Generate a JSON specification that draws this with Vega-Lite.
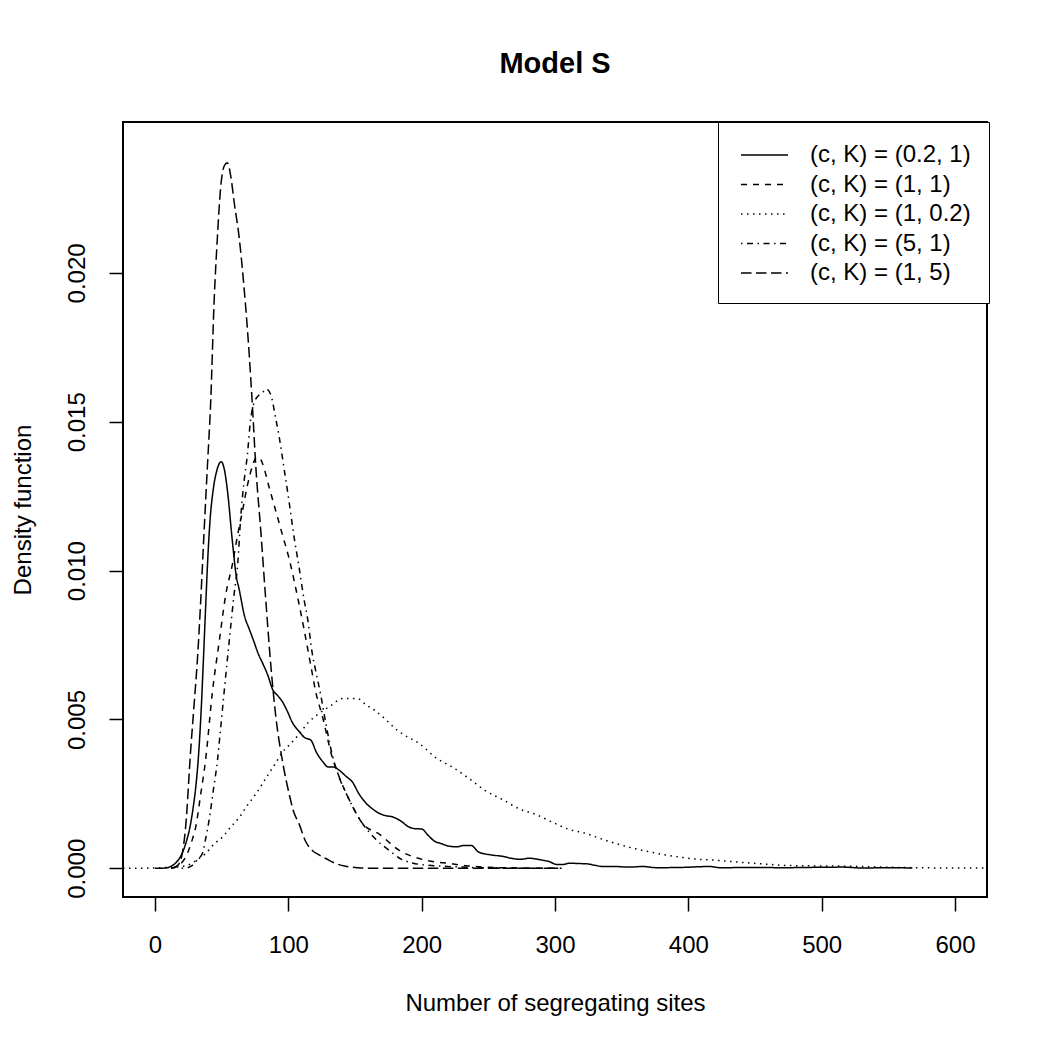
{
  "$schema": "https://vega.github.io/schema/vega-lite/v6.json",
  "autosize": {"type": "none"},
  "padding": {"left": 123, "top": 122, "right": 63, "bottom": 153},
  "width": 864,
  "height": 775,
  "background": "white",
  "title": {
    "text": "Model S",
    "font": "Liberation Sans",
    "fontSize": 29,
    "fontWeight": "bold",
    "color": "black",
    "anchor": "middle",
    "frame": "group",
    "offset": 43
  },
  "config": {
    "view": {"stroke": "black", "strokeWidth": 2},
    "axis": {
      "domain": false,
      "grid": false,
      "ticks": true,
      "tickColor": "black",
      "tickWidth": 1.5,
      "tickSize": 14,
      "labelFont": "Liberation Sans",
      "labelFontSize": 24,
      "labelColor": "black",
      "titleFont": "Liberation Sans",
      "titleFontSize": 24,
      "titleFontWeight": "normal",
      "titleColor": "black"
    }
  },
  "data": {
    "values": [
      {"series": "(c, K) = (0.2, 1)", "x": 0, "y": 0},
      {"series": "(c, K) = (0.2, 1)", "x": 8, "y": 0.00001},
      {"series": "(c, K) = (0.2, 1)", "x": 12, "y": 0.00007},
      {"series": "(c, K) = (0.2, 1)", "x": 16, "y": 0.0002},
      {"series": "(c, K) = (0.2, 1)", "x": 20.3, "y": 0.0005},
      {"series": "(c, K) = (0.2, 1)", "x": 23.5, "y": 0.0009},
      {"series": "(c, K) = (0.2, 1)", "x": 26.3, "y": 0.0014},
      {"series": "(c, K) = (0.2, 1)", "x": 28.5, "y": 0.002},
      {"series": "(c, K) = (0.2, 1)", "x": 30.5, "y": 0.0027},
      {"series": "(c, K) = (0.2, 1)", "x": 32.5, "y": 0.0037},
      {"series": "(c, K) = (0.2, 1)", "x": 34.5, "y": 0.0052},
      {"series": "(c, K) = (0.2, 1)", "x": 36.3, "y": 0.007},
      {"series": "(c, K) = (0.2, 1)", "x": 38, "y": 0.0088},
      {"series": "(c, K) = (0.2, 1)", "x": 39.7, "y": 0.0105},
      {"series": "(c, K) = (0.2, 1)", "x": 41.3, "y": 0.0117},
      {"series": "(c, K) = (0.2, 1)", "x": 43.6, "y": 0.0127},
      {"series": "(c, K) = (0.2, 1)", "x": 46.6, "y": 0.0134},
      {"series": "(c, K) = (0.2, 1)", "x": 49.6, "y": 0.01366},
      {"series": "(c, K) = (0.2, 1)", "x": 52, "y": 0.0134},
      {"series": "(c, K) = (0.2, 1)", "x": 54.3, "y": 0.0127},
      {"series": "(c, K) = (0.2, 1)", "x": 58, "y": 0.011},
      {"series": "(c, K) = (0.2, 1)", "x": 61, "y": 0.0098},
      {"series": "(c, K) = (0.2, 1)", "x": 63, "y": 0.0094},
      {"series": "(c, K) = (0.2, 1)", "x": 67, "y": 0.0085},
      {"series": "(c, K) = (0.2, 1)", "x": 71, "y": 0.008},
      {"series": "(c, K) = (0.2, 1)", "x": 74.3, "y": 0.0076},
      {"series": "(c, K) = (0.2, 1)", "x": 77.5, "y": 0.0072},
      {"series": "(c, K) = (0.2, 1)", "x": 80.6, "y": 0.0069},
      {"series": "(c, K) = (0.2, 1)", "x": 84.5, "y": 0.0065},
      {"series": "(c, K) = (0.2, 1)", "x": 88.3, "y": 0.006},
      {"series": "(c, K) = (0.2, 1)", "x": 92, "y": 0.0058},
      {"series": "(c, K) = (0.2, 1)", "x": 95.5, "y": 0.0056},
      {"series": "(c, K) = (0.2, 1)", "x": 99, "y": 0.0053},
      {"series": "(c, K) = (0.2, 1)", "x": 103, "y": 0.0049},
      {"series": "(c, K) = (0.2, 1)", "x": 108, "y": 0.0046},
      {"series": "(c, K) = (0.2, 1)", "x": 112, "y": 0.0044},
      {"series": "(c, K) = (0.2, 1)", "x": 117, "y": 0.0043},
      {"series": "(c, K) = (0.2, 1)", "x": 121, "y": 0.0039},
      {"series": "(c, K) = (0.2, 1)", "x": 125.5, "y": 0.0036},
      {"series": "(c, K) = (0.2, 1)", "x": 130, "y": 0.0034},
      {"series": "(c, K) = (0.2, 1)", "x": 134, "y": 0.0034},
      {"series": "(c, K) = (0.2, 1)", "x": 138, "y": 0.0033},
      {"series": "(c, K) = (0.2, 1)", "x": 143, "y": 0.0031},
      {"series": "(c, K) = (0.2, 1)", "x": 148, "y": 0.0029},
      {"series": "(c, K) = (0.2, 1)", "x": 153, "y": 0.0025},
      {"series": "(c, K) = (0.2, 1)", "x": 158, "y": 0.0022},
      {"series": "(c, K) = (0.2, 1)", "x": 163, "y": 0.002},
      {"series": "(c, K) = (0.2, 1)", "x": 168, "y": 0.00185},
      {"series": "(c, K) = (0.2, 1)", "x": 173, "y": 0.00177},
      {"series": "(c, K) = (0.2, 1)", "x": 178, "y": 0.00173},
      {"series": "(c, K) = (0.2, 1)", "x": 184, "y": 0.0016},
      {"series": "(c, K) = (0.2, 1)", "x": 190, "y": 0.0014},
      {"series": "(c, K) = (0.2, 1)", "x": 195, "y": 0.00133},
      {"series": "(c, K) = (0.2, 1)", "x": 200, "y": 0.00132},
      {"series": "(c, K) = (0.2, 1)", "x": 205, "y": 0.0011},
      {"series": "(c, K) = (0.2, 1)", "x": 210, "y": 0.0009},
      {"series": "(c, K) = (0.2, 1)", "x": 214, "y": 0.00084},
      {"series": "(c, K) = (0.2, 1)", "x": 220, "y": 0.00075},
      {"series": "(c, K) = (0.2, 1)", "x": 226, "y": 0.00072},
      {"series": "(c, K) = (0.2, 1)", "x": 232, "y": 0.00077},
      {"series": "(c, K) = (0.2, 1)", "x": 237, "y": 0.00077},
      {"series": "(c, K) = (0.2, 1)", "x": 243, "y": 0.00054},
      {"series": "(c, K) = (0.2, 1)", "x": 252, "y": 0.00045},
      {"series": "(c, K) = (0.2, 1)", "x": 261, "y": 0.0004},
      {"series": "(c, K) = (0.2, 1)", "x": 268, "y": 0.00033},
      {"series": "(c, K) = (0.2, 1)", "x": 274, "y": 0.0003},
      {"series": "(c, K) = (0.2, 1)", "x": 281, "y": 0.00034},
      {"series": "(c, K) = (0.2, 1)", "x": 286, "y": 0.00031},
      {"series": "(c, K) = (0.2, 1)", "x": 291, "y": 0.00027},
      {"series": "(c, K) = (0.2, 1)", "x": 296, "y": 0.00022},
      {"series": "(c, K) = (0.2, 1)", "x": 301, "y": 0.00013},
      {"series": "(c, K) = (0.2, 1)", "x": 306, "y": 0.00013},
      {"series": "(c, K) = (0.2, 1)", "x": 311, "y": 0.00017},
      {"series": "(c, K) = (0.2, 1)", "x": 318, "y": 0.00016},
      {"series": "(c, K) = (0.2, 1)", "x": 324, "y": 0.00015},
      {"series": "(c, K) = (0.2, 1)", "x": 330, "y": 0.0001},
      {"series": "(c, K) = (0.2, 1)", "x": 336, "y": 0.00006},
      {"series": "(c, K) = (0.2, 1)", "x": 345, "y": 0.00006},
      {"series": "(c, K) = (0.2, 1)", "x": 355, "y": 0.00004},
      {"series": "(c, K) = (0.2, 1)", "x": 366, "y": 0.00006},
      {"series": "(c, K) = (0.2, 1)", "x": 376, "y": 0.00002},
      {"series": "(c, K) = (0.2, 1)", "x": 395, "y": 0.00003},
      {"series": "(c, K) = (0.2, 1)", "x": 416, "y": 0.00006},
      {"series": "(c, K) = (0.2, 1)", "x": 424, "y": 0.00002},
      {"series": "(c, K) = (0.2, 1)", "x": 450, "y": 0.00003},
      {"series": "(c, K) = (0.2, 1)", "x": 471, "y": 0.00002},
      {"series": "(c, K) = (0.2, 1)", "x": 490, "y": 0.00003},
      {"series": "(c, K) = (0.2, 1)", "x": 516, "y": 0.00004},
      {"series": "(c, K) = (0.2, 1)", "x": 530, "y": 0.00001},
      {"series": "(c, K) = (0.2, 1)", "x": 550, "y": 0.00002},
      {"series": "(c, K) = (0.2, 1)", "x": 568, "y": 0.00001},

      {"series": "(c, K) = (1, 1)", "x": 12, "y": 0},
      {"series": "(c, K) = (1, 1)", "x": 18, "y": 0.0001},
      {"series": "(c, K) = (1, 1)", "x": 24.3, "y": 0.0005},
      {"series": "(c, K) = (1, 1)", "x": 27.5, "y": 0.0009},
      {"series": "(c, K) = (1, 1)", "x": 30.6, "y": 0.0014},
      {"series": "(c, K) = (1, 1)", "x": 34, "y": 0.0024},
      {"series": "(c, K) = (1, 1)", "x": 38.1, "y": 0.0037},
      {"series": "(c, K) = (1, 1)", "x": 43, "y": 0.0059},
      {"series": "(c, K) = (1, 1)", "x": 48.1, "y": 0.0076},
      {"series": "(c, K) = (1, 1)", "x": 53.1, "y": 0.0092},
      {"series": "(c, K) = (1, 1)", "x": 58, "y": 0.0102},
      {"series": "(c, K) = (1, 1)", "x": 62, "y": 0.0112},
      {"series": "(c, K) = (1, 1)", "x": 65.6, "y": 0.012},
      {"series": "(c, K) = (1, 1)", "x": 69, "y": 0.0128},
      {"series": "(c, K) = (1, 1)", "x": 73, "y": 0.0135},
      {"series": "(c, K) = (1, 1)", "x": 76, "y": 0.0138},
      {"series": "(c, K) = (1, 1)", "x": 78.1, "y": 0.0138},
      {"series": "(c, K) = (1, 1)", "x": 80.6, "y": 0.0136},
      {"series": "(c, K) = (1, 1)", "x": 85.6, "y": 0.0128},
      {"series": "(c, K) = (1, 1)", "x": 90.6, "y": 0.012},
      {"series": "(c, K) = (1, 1)", "x": 95.6, "y": 0.0112},
      {"series": "(c, K) = (1, 1)", "x": 100.6, "y": 0.0104},
      {"series": "(c, K) = (1, 1)", "x": 105.6, "y": 0.0094},
      {"series": "(c, K) = (1, 1)", "x": 111.9, "y": 0.008},
      {"series": "(c, K) = (1, 1)", "x": 116.9, "y": 0.0068},
      {"series": "(c, K) = (1, 1)", "x": 120.7, "y": 0.0059},
      {"series": "(c, K) = (1, 1)", "x": 125.6, "y": 0.0051},
      {"series": "(c, K) = (1, 1)", "x": 133.1, "y": 0.0037},
      {"series": "(c, K) = (1, 1)", "x": 137, "y": 0.0032},
      {"series": "(c, K) = (1, 1)", "x": 145.7, "y": 0.0023},
      {"series": "(c, K) = (1, 1)", "x": 155.7, "y": 0.0015},
      {"series": "(c, K) = (1, 1)", "x": 168.2, "y": 0.00115},
      {"series": "(c, K) = (1, 1)", "x": 183.2, "y": 0.0006},
      {"series": "(c, K) = (1, 1)", "x": 193, "y": 0.0004},
      {"series": "(c, K) = (1, 1)", "x": 203.3, "y": 0.00027},
      {"series": "(c, K) = (1, 1)", "x": 220.8, "y": 0.00016},
      {"series": "(c, K) = (1, 1)", "x": 235, "y": 0.00008},
      {"series": "(c, K) = (1, 1)", "x": 245.8, "y": 0.00004},
      {"series": "(c, K) = (1, 1)", "x": 270, "y": 0.00001},
      {"series": "(c, K) = (1, 1)", "x": 305, "y": 0},

      {"series": "(c, K) = (1, 0.2)", "x": -24, "y": 0},
      {"series": "(c, K) = (1, 0.2)", "x": 0, "y": 0.00001},
      {"series": "(c, K) = (1, 0.2)", "x": 10, "y": 0.00003},
      {"series": "(c, K) = (1, 0.2)", "x": 20, "y": 0.00006},
      {"series": "(c, K) = (1, 0.2)", "x": 25.5, "y": 0.00012},
      {"series": "(c, K) = (1, 0.2)", "x": 32, "y": 0.0003},
      {"series": "(c, K) = (1, 0.2)", "x": 38, "y": 0.0005},
      {"series": "(c, K) = (1, 0.2)", "x": 44, "y": 0.0008},
      {"series": "(c, K) = (1, 0.2)", "x": 50.6, "y": 0.00105},
      {"series": "(c, K) = (1, 0.2)", "x": 57, "y": 0.0014},
      {"series": "(c, K) = (1, 0.2)", "x": 63, "y": 0.0017},
      {"series": "(c, K) = (1, 0.2)", "x": 69, "y": 0.0021},
      {"series": "(c, K) = (1, 0.2)", "x": 75.6, "y": 0.0025},
      {"series": "(c, K) = (1, 0.2)", "x": 80, "y": 0.0028},
      {"series": "(c, K) = (1, 0.2)", "x": 85.6, "y": 0.0032},
      {"series": "(c, K) = (1, 0.2)", "x": 90, "y": 0.0035},
      {"series": "(c, K) = (1, 0.2)", "x": 95.6, "y": 0.0039},
      {"series": "(c, K) = (1, 0.2)", "x": 102, "y": 0.0042},
      {"series": "(c, K) = (1, 0.2)", "x": 108, "y": 0.0045},
      {"series": "(c, K) = (1, 0.2)", "x": 115, "y": 0.0049},
      {"series": "(c, K) = (1, 0.2)", "x": 123, "y": 0.0052},
      {"series": "(c, K) = (1, 0.2)", "x": 133, "y": 0.0055},
      {"series": "(c, K) = (1, 0.2)", "x": 140, "y": 0.0057},
      {"series": "(c, K) = (1, 0.2)", "x": 146, "y": 0.0057},
      {"series": "(c, K) = (1, 0.2)", "x": 152, "y": 0.0057},
      {"series": "(c, K) = (1, 0.2)", "x": 158, "y": 0.0055},
      {"series": "(c, K) = (1, 0.2)", "x": 165, "y": 0.0053},
      {"series": "(c, K) = (1, 0.2)", "x": 173, "y": 0.005},
      {"series": "(c, K) = (1, 0.2)", "x": 180, "y": 0.0047},
      {"series": "(c, K) = (1, 0.2)", "x": 186, "y": 0.0045},
      {"series": "(c, K) = (1, 0.2)", "x": 198, "y": 0.0042},
      {"series": "(c, K) = (1, 0.2)", "x": 211, "y": 0.0037},
      {"series": "(c, K) = (1, 0.2)", "x": 223, "y": 0.0034},
      {"series": "(c, K) = (1, 0.2)", "x": 236, "y": 0.003},
      {"series": "(c, K) = (1, 0.2)", "x": 248, "y": 0.0026},
      {"series": "(c, K) = (1, 0.2)", "x": 261, "y": 0.0023},
      {"series": "(c, K) = (1, 0.2)", "x": 273, "y": 0.002},
      {"series": "(c, K) = (1, 0.2)", "x": 286, "y": 0.0018},
      {"series": "(c, K) = (1, 0.2)", "x": 298, "y": 0.00155},
      {"series": "(c, K) = (1, 0.2)", "x": 311, "y": 0.0013},
      {"series": "(c, K) = (1, 0.2)", "x": 321, "y": 0.0012},
      {"series": "(c, K) = (1, 0.2)", "x": 334, "y": 0.001},
      {"series": "(c, K) = (1, 0.2)", "x": 346, "y": 0.00083},
      {"series": "(c, K) = (1, 0.2)", "x": 358, "y": 0.00068},
      {"series": "(c, K) = (1, 0.2)", "x": 371, "y": 0.00055},
      {"series": "(c, K) = (1, 0.2)", "x": 383, "y": 0.00045},
      {"series": "(c, K) = (1, 0.2)", "x": 396, "y": 0.00036},
      {"series": "(c, K) = (1, 0.2)", "x": 408, "y": 0.0003},
      {"series": "(c, K) = (1, 0.2)", "x": 421, "y": 0.00027},
      {"series": "(c, K) = (1, 0.2)", "x": 434, "y": 0.00022},
      {"series": "(c, K) = (1, 0.2)", "x": 446, "y": 0.00018},
      {"series": "(c, K) = (1, 0.2)", "x": 458, "y": 0.00014},
      {"series": "(c, K) = (1, 0.2)", "x": 471, "y": 0.0001},
      {"series": "(c, K) = (1, 0.2)", "x": 496, "y": 0.00008},
      {"series": "(c, K) = (1, 0.2)", "x": 521, "y": 0.00007},
      {"series": "(c, K) = (1, 0.2)", "x": 546, "y": 0.00004},
      {"series": "(c, K) = (1, 0.2)", "x": 571, "y": 0.00002},
      {"series": "(c, K) = (1, 0.2)", "x": 596, "y": 0.00001},
      {"series": "(c, K) = (1, 0.2)", "x": 624, "y": 0.00001},

      {"series": "(c, K) = (5, 1)", "x": 20, "y": 0},
      {"series": "(c, K) = (5, 1)", "x": 25, "y": 0.00003},
      {"series": "(c, K) = (5, 1)", "x": 28, "y": 0.0001},
      {"series": "(c, K) = (5, 1)", "x": 32, "y": 0.0003},
      {"series": "(c, K) = (5, 1)", "x": 35.5, "y": 0.0005},
      {"series": "(c, K) = (5, 1)", "x": 38, "y": 0.001},
      {"series": "(c, K) = (5, 1)", "x": 40.5, "y": 0.0016},
      {"series": "(c, K) = (5, 1)", "x": 44, "y": 0.0027},
      {"series": "(c, K) = (5, 1)", "x": 46.8, "y": 0.0036},
      {"series": "(c, K) = (5, 1)", "x": 49, "y": 0.0046},
      {"series": "(c, K) = (5, 1)", "x": 51.8, "y": 0.0059},
      {"series": "(c, K) = (5, 1)", "x": 55.6, "y": 0.0076},
      {"series": "(c, K) = (5, 1)", "x": 59.3, "y": 0.0092},
      {"series": "(c, K) = (5, 1)", "x": 62, "y": 0.0102},
      {"series": "(c, K) = (5, 1)", "x": 64.3, "y": 0.0118},
      {"series": "(c, K) = (5, 1)", "x": 66.8, "y": 0.013},
      {"series": "(c, K) = (5, 1)", "x": 69.3, "y": 0.0139},
      {"series": "(c, K) = (5, 1)", "x": 71.5, "y": 0.015},
      {"series": "(c, K) = (5, 1)", "x": 74, "y": 0.0156},
      {"series": "(c, K) = (5, 1)", "x": 78, "y": 0.0159},
      {"series": "(c, K) = (5, 1)", "x": 81, "y": 0.016},
      {"series": "(c, K) = (5, 1)", "x": 83.6, "y": 0.0161},
      {"series": "(c, K) = (5, 1)", "x": 86.9, "y": 0.0159},
      {"series": "(c, K) = (5, 1)", "x": 90.6, "y": 0.0151},
      {"series": "(c, K) = (5, 1)", "x": 93.1, "y": 0.0145},
      {"series": "(c, K) = (5, 1)", "x": 96.9, "y": 0.0134},
      {"series": "(c, K) = (5, 1)", "x": 100.6, "y": 0.0123},
      {"series": "(c, K) = (5, 1)", "x": 104.4, "y": 0.0111},
      {"series": "(c, K) = (5, 1)", "x": 108.1, "y": 0.0101},
      {"series": "(c, K) = (5, 1)", "x": 111.9, "y": 0.009},
      {"series": "(c, K) = (5, 1)", "x": 114.4, "y": 0.0084},
      {"series": "(c, K) = (5, 1)", "x": 118, "y": 0.0072},
      {"series": "(c, K) = (5, 1)", "x": 120.7, "y": 0.0066},
      {"series": "(c, K) = (5, 1)", "x": 124.4, "y": 0.0058},
      {"series": "(c, K) = (5, 1)", "x": 128, "y": 0.0049},
      {"series": "(c, K) = (5, 1)", "x": 133, "y": 0.0038},
      {"series": "(c, K) = (5, 1)", "x": 137, "y": 0.0032},
      {"series": "(c, K) = (5, 1)", "x": 145.7, "y": 0.0023},
      {"series": "(c, K) = (5, 1)", "x": 155.7, "y": 0.0015},
      {"series": "(c, K) = (5, 1)", "x": 165, "y": 0.001},
      {"series": "(c, K) = (5, 1)", "x": 175.7, "y": 0.0006},
      {"series": "(c, K) = (5, 1)", "x": 185, "y": 0.0003},
      {"series": "(c, K) = (5, 1)", "x": 193, "y": 0.00018},
      {"series": "(c, K) = (5, 1)", "x": 205, "y": 0.0001},
      {"series": "(c, K) = (5, 1)", "x": 215.7, "y": 0.00007},
      {"series": "(c, K) = (5, 1)", "x": 230, "y": 0.00004},
      {"series": "(c, K) = (5, 1)", "x": 258, "y": 0.00001},
      {"series": "(c, K) = (5, 1)", "x": 300, "y": 0},

      {"series": "(c, K) = (1, 5)", "x": 12, "y": 0},
      {"series": "(c, K) = (1, 5)", "x": 17, "y": 0.0001},
      {"series": "(c, K) = (1, 5)", "x": 20, "y": 0.0004},
      {"series": "(c, K) = (1, 5)", "x": 23, "y": 0.0014},
      {"series": "(c, K) = (1, 5)", "x": 26.8, "y": 0.004},
      {"series": "(c, K) = (1, 5)", "x": 29.5, "y": 0.0056},
      {"series": "(c, K) = (1, 5)", "x": 31.8, "y": 0.007},
      {"series": "(c, K) = (1, 5)", "x": 34.3, "y": 0.009},
      {"series": "(c, K) = (1, 5)", "x": 36.8, "y": 0.0113},
      {"series": "(c, K) = (1, 5)", "x": 39.3, "y": 0.0135},
      {"series": "(c, K) = (1, 5)", "x": 41.8, "y": 0.0157},
      {"series": "(c, K) = (1, 5)", "x": 44.3, "y": 0.019},
      {"series": "(c, K) = (1, 5)", "x": 46.8, "y": 0.0212},
      {"series": "(c, K) = (1, 5)", "x": 49.3, "y": 0.0229},
      {"series": "(c, K) = (1, 5)", "x": 52, "y": 0.0236},
      {"series": "(c, K) = (1, 5)", "x": 54.3, "y": 0.0237},
      {"series": "(c, K) = (1, 5)", "x": 57, "y": 0.0232},
      {"series": "(c, K) = (1, 5)", "x": 59.3, "y": 0.0224},
      {"series": "(c, K) = (1, 5)", "x": 63.1, "y": 0.0212},
      {"series": "(c, K) = (1, 5)", "x": 66.8, "y": 0.0195},
      {"series": "(c, K) = (1, 5)", "x": 70.6, "y": 0.0173},
      {"series": "(c, K) = (1, 5)", "x": 73.1, "y": 0.0155},
      {"series": "(c, K) = (1, 5)", "x": 75.6, "y": 0.0135},
      {"series": "(c, K) = (1, 5)", "x": 79.4, "y": 0.0113},
      {"series": "(c, K) = (1, 5)", "x": 83.1, "y": 0.009},
      {"series": "(c, K) = (1, 5)", "x": 86.9, "y": 0.0068},
      {"series": "(c, K) = (1, 5)", "x": 90.6, "y": 0.0051},
      {"series": "(c, K) = (1, 5)", "x": 95.6, "y": 0.0036},
      {"series": "(c, K) = (1, 5)", "x": 100.6, "y": 0.0025},
      {"series": "(c, K) = (1, 5)", "x": 104, "y": 0.0019},
      {"series": "(c, K) = (1, 5)", "x": 108, "y": 0.0015},
      {"series": "(c, K) = (1, 5)", "x": 113, "y": 0.0009},
      {"series": "(c, K) = (1, 5)", "x": 118, "y": 0.0006},
      {"series": "(c, K) = (1, 5)", "x": 123, "y": 0.00045},
      {"series": "(c, K) = (1, 5)", "x": 128, "y": 0.00033},
      {"series": "(c, K) = (1, 5)", "x": 135, "y": 0.00017},
      {"series": "(c, K) = (1, 5)", "x": 143, "y": 0.00007},
      {"series": "(c, K) = (1, 5)", "x": 152, "y": 0.00002},
      {"series": "(c, K) = (1, 5)", "x": 165, "y": 0},
      {"series": "(c, K) = (1, 5)", "x": 230, "y": 0},
      {"series": "(c, K) = (1, 5)", "x": 305, "y": 0}
    ]
  },
  "mark": {"type": "line", "color": "black", "strokeWidth": 1.5, "interpolate": "monotone", "clip": true},
  "encoding": {
    "x": {
      "field": "x",
      "type": "quantitative",
      "scale": {"domain": [-24, 624], "nice": false, "zero": false},
      "axis": {
        "values": [0, 100, 200, 300, 400, 500, 600],
        "labelPadding": 22,
        "title": "Number of segregating sites",
        "titlePadding": 34
      }
    },
    "y": {
      "field": "y",
      "type": "quantitative",
      "scale": {"domain": [-0.000964, 0.02507], "nice": false, "zero": false},
      "axis": {
        "values": [0, 0.005, 0.01, 0.015, 0.02],
        "format": ".3f",
        "labelAngle": -90,
        "labelAlign": "center",
        "labelBaseline": "bottom",
        "labelPadding": 20,
        "title": "Density function",
        "titlePadding": 30
      }
    },
    "strokeDash": {
      "field": "series",
      "type": "nominal",
      "scale": {
        "domain": ["(c, K) = (0.2, 1)", "(c, K) = (1, 1)", "(c, K) = (1, 0.2)", "(c, K) = (5, 1)", "(c, K) = (1, 5)"],
        "range": [[1, 0], [6, 6], [1.5, 4.5], [1.5, 4.5, 6, 4.5], [10.5, 4.5]]
      },
      "legend": {
        "title": null,
        "orient": "none",
        "legendX": 595,
        "legendY": 0,
        "padding": 17.5,
        "symbolOffset": 13.5,
        "symbolType": "M-1.62,0H1.62",
        "symbolSize": 841,
        "symbolStrokeWidth": 1.5,
        "symbolStrokeColor": "black",
        "symbolFillColor": "transparent",
        "labelFont": "Liberation Sans",
        "labelFontSize": 24,
        "labelColor": "black",
        "labelOffset": 30,
        "labelLimit": 400,
        "rowPadding": 1.5,
        "strokeColor": "black",
        "fillColor": "white"
      }
    }
  }
}
